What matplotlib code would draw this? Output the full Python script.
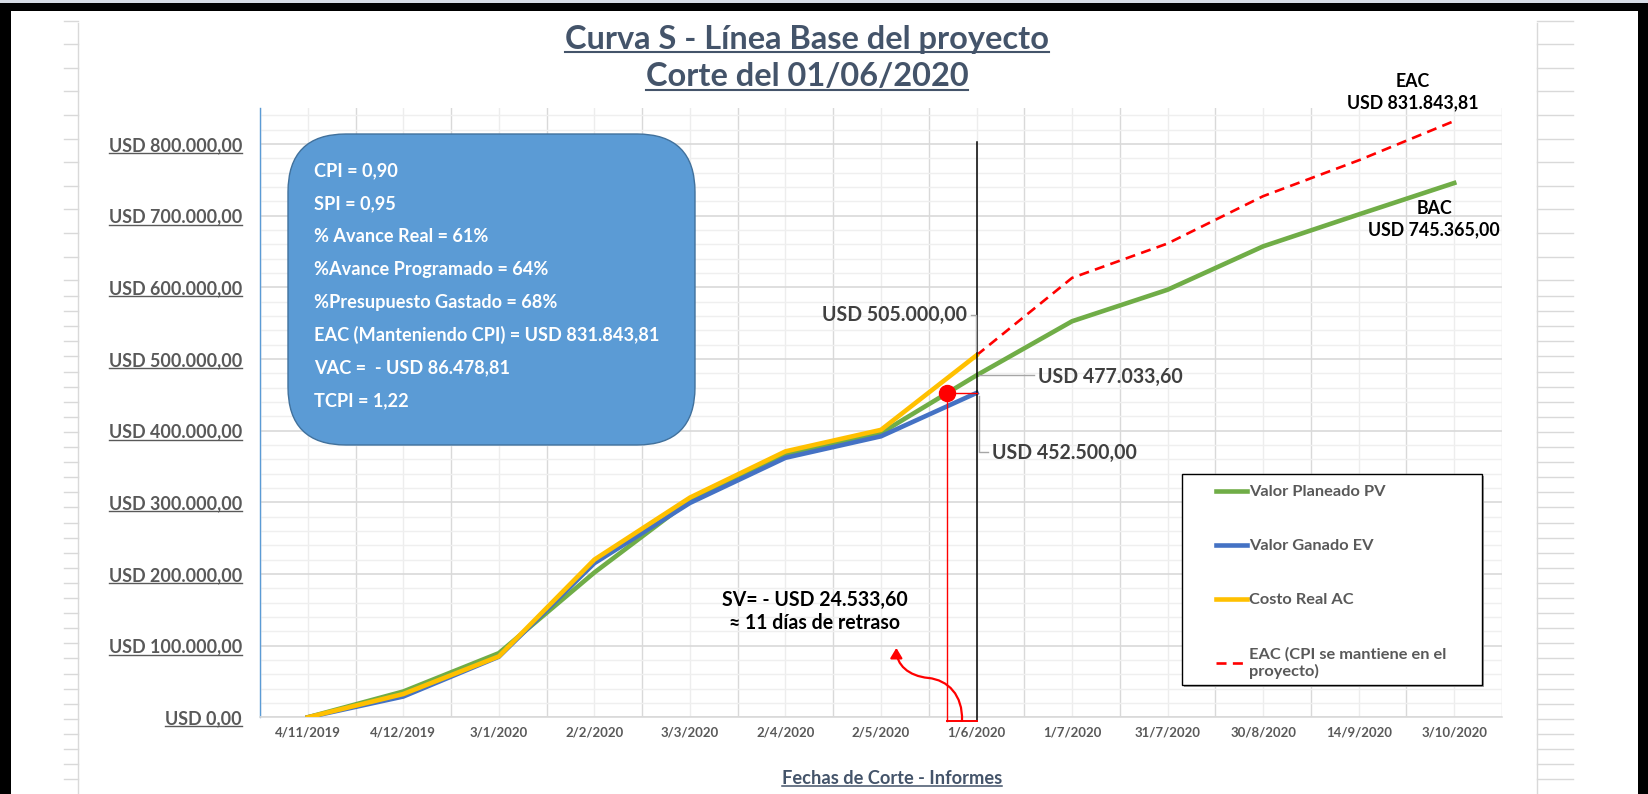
import numpy as np
import matplotlib
matplotlib.use("Agg")
import matplotlib.pyplot as plt
from matplotlib.lines import Line2D
from matplotlib.patches import FancyBboxPatch, Rectangle, FancyArrowPatch
from matplotlib.path import Path
from matplotlib.transforms import Affine2D, IdentityTransform

plt.rcParams['font.family'] = ['Lato', 'DejaVu Sans']

W, H, DPI = 1648, 794, 100

# ---------------- data ----------------
categories = ["4/11/2019", "4/12/2019", "3/1/2020", "2/2/2020", "3/3/2020", "2/4/2020",
              "2/5/2020", "1/6/2020", "1/7/2020", "31/7/2020", "30/8/2020", "14/9/2020", "3/10/2020"]
pv = [0, 36000, 89500, 202000, 302500, 366000, 396500, 477033.60,
      552500, 596500, 657000, 701500, 745365.00]
ev = [0, 29000, 84500, 215000, 299000, 362000, 392000, 452500.00]
ac = [0, 32500, 85000, 220000, 306500, 371000, 401000, 505000.00]
eac = [505000.00, 613000, 661000, 727000, 777000, 831843.81]
cut_index = 7
y_ticks = [0, 100000, 200000, 300000, 400000, 500000, 600000, 700000, 800000]
y_max = 850000
cut_line_top = 803000

title_lines = ["Curva S - Línea Base del proyecto", "Corte del 01/06/2020"]
x_title = "Fechas de Corte - Informes"
box_lines = ["CPI = 0,90", "SPI = 0,95", "% Avance Real = 61%", "%Avance Programado = 64%",
             "%Presupuesto Gastado = 68%", "EAC (Manteniendo CPI) = USD 831.843,81",
             "VAC =  - USD 86.478,81", "TCPI = 1,22"]
sv_lines = ["SV= - USD 24.533,60", "≈ 11 días de retraso"]
legend_labels = ["Valor Planeado PV", "Valor Ganado EV", "Costo Real AC",
                 "EAC (CPI se mantiene en el\nproyecto)"]

GREEN, BLUE, YELLOW, RED = '#70AD47', '#4472C4', '#FFC000', '#FF0000'
TITLE_C, AXIS_C, LABEL_C = '#44546A', '#595959', '#404040'


def usd(v):
    s = f"{v:,.2f}".replace(",", "#").replace(".", ",").replace("#", ".")
    return "USD " + s


fig = plt.figure(figsize=(W / DPI, H / DPI), dpi=DPI, facecolor='white')
R = fig.canvas.get_renderer()
px = Affine2D().scale(1 / W, -1 / H).translate(0, 1) + fig.transFigure


def fit(text, target, base=10.0):
    t = fig.text(0, 0, text, fontsize=base, fontweight='bold')
    w = t.get_window_extent(renderer=R).width
    t.remove()
    return base * target / w


# ---------------- sheet background ----------------
fig.add_artist(Rectangle((0, 0), W, 3, transform=px, fc='#D6DCE5', ec='none'))
fig.add_artist(Rectangle((0, 3), W, 8, transform=px, fc='black', ec='none'))
fig.add_artist(Rectangle((0, 3), 11, H, transform=px, fc='black', ec='none'))
fig.add_artist(Rectangle((1638, 3), 10, H, transform=px, fc='black', ec='none'))
for xb in (78, 1537):
    fig.add_artist(Line2D([xb, xb], [23, H], transform=px, color='#D9D9D9', lw=1))
rows = list(np.arange(20.6, 290, 23.6)) + list(np.arange(296, H, 15.1))
for yr in rows:
    fig.add_artist(Line2D([64, 78], [yr, yr], transform=px, color='#D9D9D9', lw=1))
    fig.add_artist(Line2D([1537, 1573], [yr, yr], transform=px, color='#D9D9D9', lw=1))

# ---------------- axes ----------------
ax = fig.add_axes([260 / W, 1 - 717.3 / H, 1242 / W, 609.3 / H])
ax.set_facecolor('none')
ax.set_xlim(-0.5, len(categories) - 0.5)
ax.set_ylim(0, y_max)

x_all = np.arange(len(categories))
l_pv, = ax.plot(x_all, pv, color=GREEN, lw=3.3, zorder=3, solid_joinstyle='round')
l_ev, = ax.plot(x_all[:len(ev)], ev, color=BLUE, lw=3.3, zorder=4, solid_joinstyle='round')
l_ac, = ax.plot(x_all[:len(ac)], ac, color=YELLOW, lw=3.3, zorder=5, solid_joinstyle='round')
l_eac, = ax.plot(x_all[cut_index:], eac, color=RED, lw=1.9, ls=(0, (3.8, 2.4)), zorder=3)

# grid
ax.set_xticks(x_all)
ax.set_xticks(np.arange(-0.5, len(categories)), minor=True)
ax.set_yticks(y_ticks)
ax.set_yticks(np.arange(0, y_max + 1, 20000), minor=True)
ax.grid(which='minor', axis='y', color='#EFEFEF', lw=1.0)
ax.grid(which='major', axis='y', color='#D9D9D9', lw=1.2)
ax.grid(which='major', axis='x', color='#EDEDED', lw=1.0)
ax.grid(which='minor', axis='x', color='#D9D9D9', lw=1.0)
ax.set_axisbelow(True)
for s in ('top', 'right'):
    ax.spines[s].set_visible(False)
ax.spines['left'].set_color('#5B9BD5')
ax.spines['left'].set_linewidth(1.0)
ax.spines['bottom'].set_color('#D9D9D9')
ax.spines['bottom'].set_linewidth(1.2)

ys = fit(usd(800000), 133)
ax.set_yticklabels([usd(v) for v in y_ticks], fontsize=ys, fontweight='bold', color=AXIS_C)
xs = fit("3/3/2020", 59)
ax.set_xticklabels(categories, fontsize=xs, fontweight='bold', color=AXIS_C)
ax.tick_params(which='both', length=0)
ax.tick_params(axis='y', pad=18 * 72 / DPI)
ax.tick_params(axis='x', pad=9 * 72 / DPI)

# cut-off markers
ev_cut = ev[cut_index]
x_dot = (cut_index - 1) + (ev_cut - pv[cut_index - 1]) / (pv[cut_index] - pv[cut_index - 1])
ax.plot([cut_index, cut_index], [-5000, cut_line_top], color='black', lw=1.1, zorder=6, clip_on=False)
ax.plot([x_dot, x_dot], [ev_cut, -5000], color=RED, lw=1.0, zorder=6, clip_on=False)
ax.plot([x_dot, cut_index], [ev_cut, ev_cut], color=RED, lw=1.0, zorder=6)
ax.plot([x_dot, cut_index], [-5000, -5000], color=RED, lw=1.4, zorder=6, clip_on=False)
x_mid = (x_dot + cut_index) / 2
ax.plot(x_dot, ev_cut, 'o', color=RED, ms=11.5, zorder=7)

# curved arrow from the bracket to the SV text
verts = [(x_mid, -5000), (x_mid + 0.01, 31000), (x_mid - 0.146, 52000), (x_mid - 0.353, 54900),
         (x_mid - 0.56, 57700), (x_mid - 0.687, 73000), (x_mid - 0.687, 96800)]
codes = [Path.MOVETO] + [Path.CURVE4] * 6
arr = FancyArrowPatch(path=Path(verts, codes), arrowstyle='-|>,head_length=0.5,head_width=0.3',
                      mutation_scale=12, color=RED, lw=1.6, zorder=6, clip_on=False)
ax.add_patch(arr)


def data_px(i, v):
    x, y = ax.transData.transform((i, v))
    return x, H - y


# ---------------- data labels ----------------
LEAD = '#A6A6A6'
dl = fit(usd(505000), 145)
x0, y0 = data_px(cut_index, ac[cut_index])
fig.add_artist(Line2D([x0 - 5.5, x0 - 0.5, x0 - 0.5], [y0 - 40, y0 - 40, y0 - 4], transform=px, color=LEAD, lw=1))
fig.text(x0 - 10, y0 - 40, usd(ac[cut_index]), transform=px, ha='right', va='center',
         fontsize=dl, fontweight='bold', color=LABEL_C)
x0, y0 = data_px(cut_index, pv[cut_index])
fig.add_artist(Line2D([x0 + 2, x0 + 57], [y0, y0], transform=px, color=LEAD, lw=1))
fig.text(x0 + 61, y0 + 2, usd(pv[cut_index]), transform=px, ha='left', va='center',
         fontsize=dl, fontweight='bold', color=LABEL_C)
x0, y0 = data_px(cut_index, ev[cut_index])
fig.add_artist(Line2D([x0 + 2.5, x0 + 2.5, x0 + 11], [y0 + 3, y0 + 59, y0 + 59], transform=px, color=LEAD, lw=1))
fig.text(x0 + 15.5, y0 + 60, usd(ev[cut_index]), transform=px, ha='left', va='center',
         fontsize=dl, fontweight='bold', color=LABEL_C)

eb = fit(usd(eac[-1]), 131)
x0, y0 = data_px(len(categories) - 1, eac[-1])
fig.text(x0 - 41, y0 - 40, "EAC", transform=px, ha='center', va='center', fontsize=eb, fontweight='bold', color='black')
fig.text(x0 - 41, y0 - 18, usd(eac[-1]), transform=px, ha='center', va='center', fontsize=eb, fontweight='bold', color='black')
x0, y0 = data_px(len(categories) - 1, pv[-1])
fig.text(x0 - 20, y0 + 25, "BAC", transform=px, ha='center', va='center', fontsize=eb, fontweight='bold', color='black')
fig.text(x0 - 20, y0 + 47, usd(pv[-1]), transform=px, ha='center', va='center', fontsize=eb, fontweight='bold', color='black')

svf = fit(sv_lines[0], 186)
fig.text(815, 600, sv_lines[0], transform=px, ha='center', va='center', fontsize=svf, fontweight='bold', color='black')
fig.text(815, 623, sv_lines[1], transform=px, ha='center', va='center', fontsize=svf, fontweight='bold', color='black')

# ---------------- info box ----------------
fig.add_artist(FancyBboxPatch((288, 134), 407, 311, boxstyle="round,pad=0,rounding_size=58",
                              transform=px, fc='#5B9BD5', ec='#41719C', lw=1.0, zorder=2))
bf = fit(box_lines[5], 344)
for k, line in enumerate(box_lines):
    fig.text(314, 170.7 + k * 32.9, line, transform=px, ha='left', va='center',
             fontsize=bf, fontweight='bold', color='white', zorder=3)

# ---------------- titles ----------------
tf = fit(title_lines[0], 485)
t1 = fig.text(807, 39, title_lines[0], transform=px, ha='center', va='center', fontsize=tf, fontweight='bold', color=TITLE_C)
t2 = fig.text(807, 77, title_lines[1], transform=px, ha='center', va='center', fontsize=tf, fontweight='bold', color=TITLE_C)
xf = fit(x_title, 220)
t3 = fig.text(892, 778, x_title, transform=px, ha='center', va='center', fontsize=xf, fontweight='bold', color=TITLE_C)

# ---------------- legend ----------------
fig.add_artist(Rectangle((1184, 476), 300, 211, transform=px, fc='#A0A0A0', ec='none', zorder=3.8))
fig.add_artist(Rectangle((1182, 474), 300, 211, transform=px, fc='white', ec='black', lw=1.0, zorder=3.9))
lf = fit(legend_labels[0], 136)
lf_px = lf * DPI / 72
leg = fig.legend([l_pv, l_ev, l_ac, l_eac], legend_labels, loc='upper left',
                 bbox_to_anchor=(1216 / W, 1 - 485 / H), frameon=False, borderpad=0, borderaxespad=0,
                 handlelength=31 / lf_px, handletextpad=2 / lf_px, labelspacing=2.42,
                 prop={'weight': 'bold', 'size': lf}, labelcolor=AXIS_C)
leg.set_zorder(5)

# ---------------- underlines ----------------
fig.canvas.draw()
R = fig.canvas.get_renderer()


def underline(t, color, lw, off=1.0):
    bb = t.get_window_extent(renderer=R)
    fig.add_artist(Line2D([bb.x0, bb.x1], [bb.y0 + off, bb.y0 + off], transform=IdentityTransform(),
                          color=color, lw=lw))


underline(t1, TITLE_C, 1.5, 1.5)
underline(t2, TITLE_C, 1.5, 1.5)
underline(t3, TITLE_C, 1.1, 1.0)
for lab in ax.get_yticklabels():
    if lab.get_text():
        underline(lab, AXIS_C, 1.0, 1.0)

fig.savefig("out.png", dpi=DPI, facecolor='white')
